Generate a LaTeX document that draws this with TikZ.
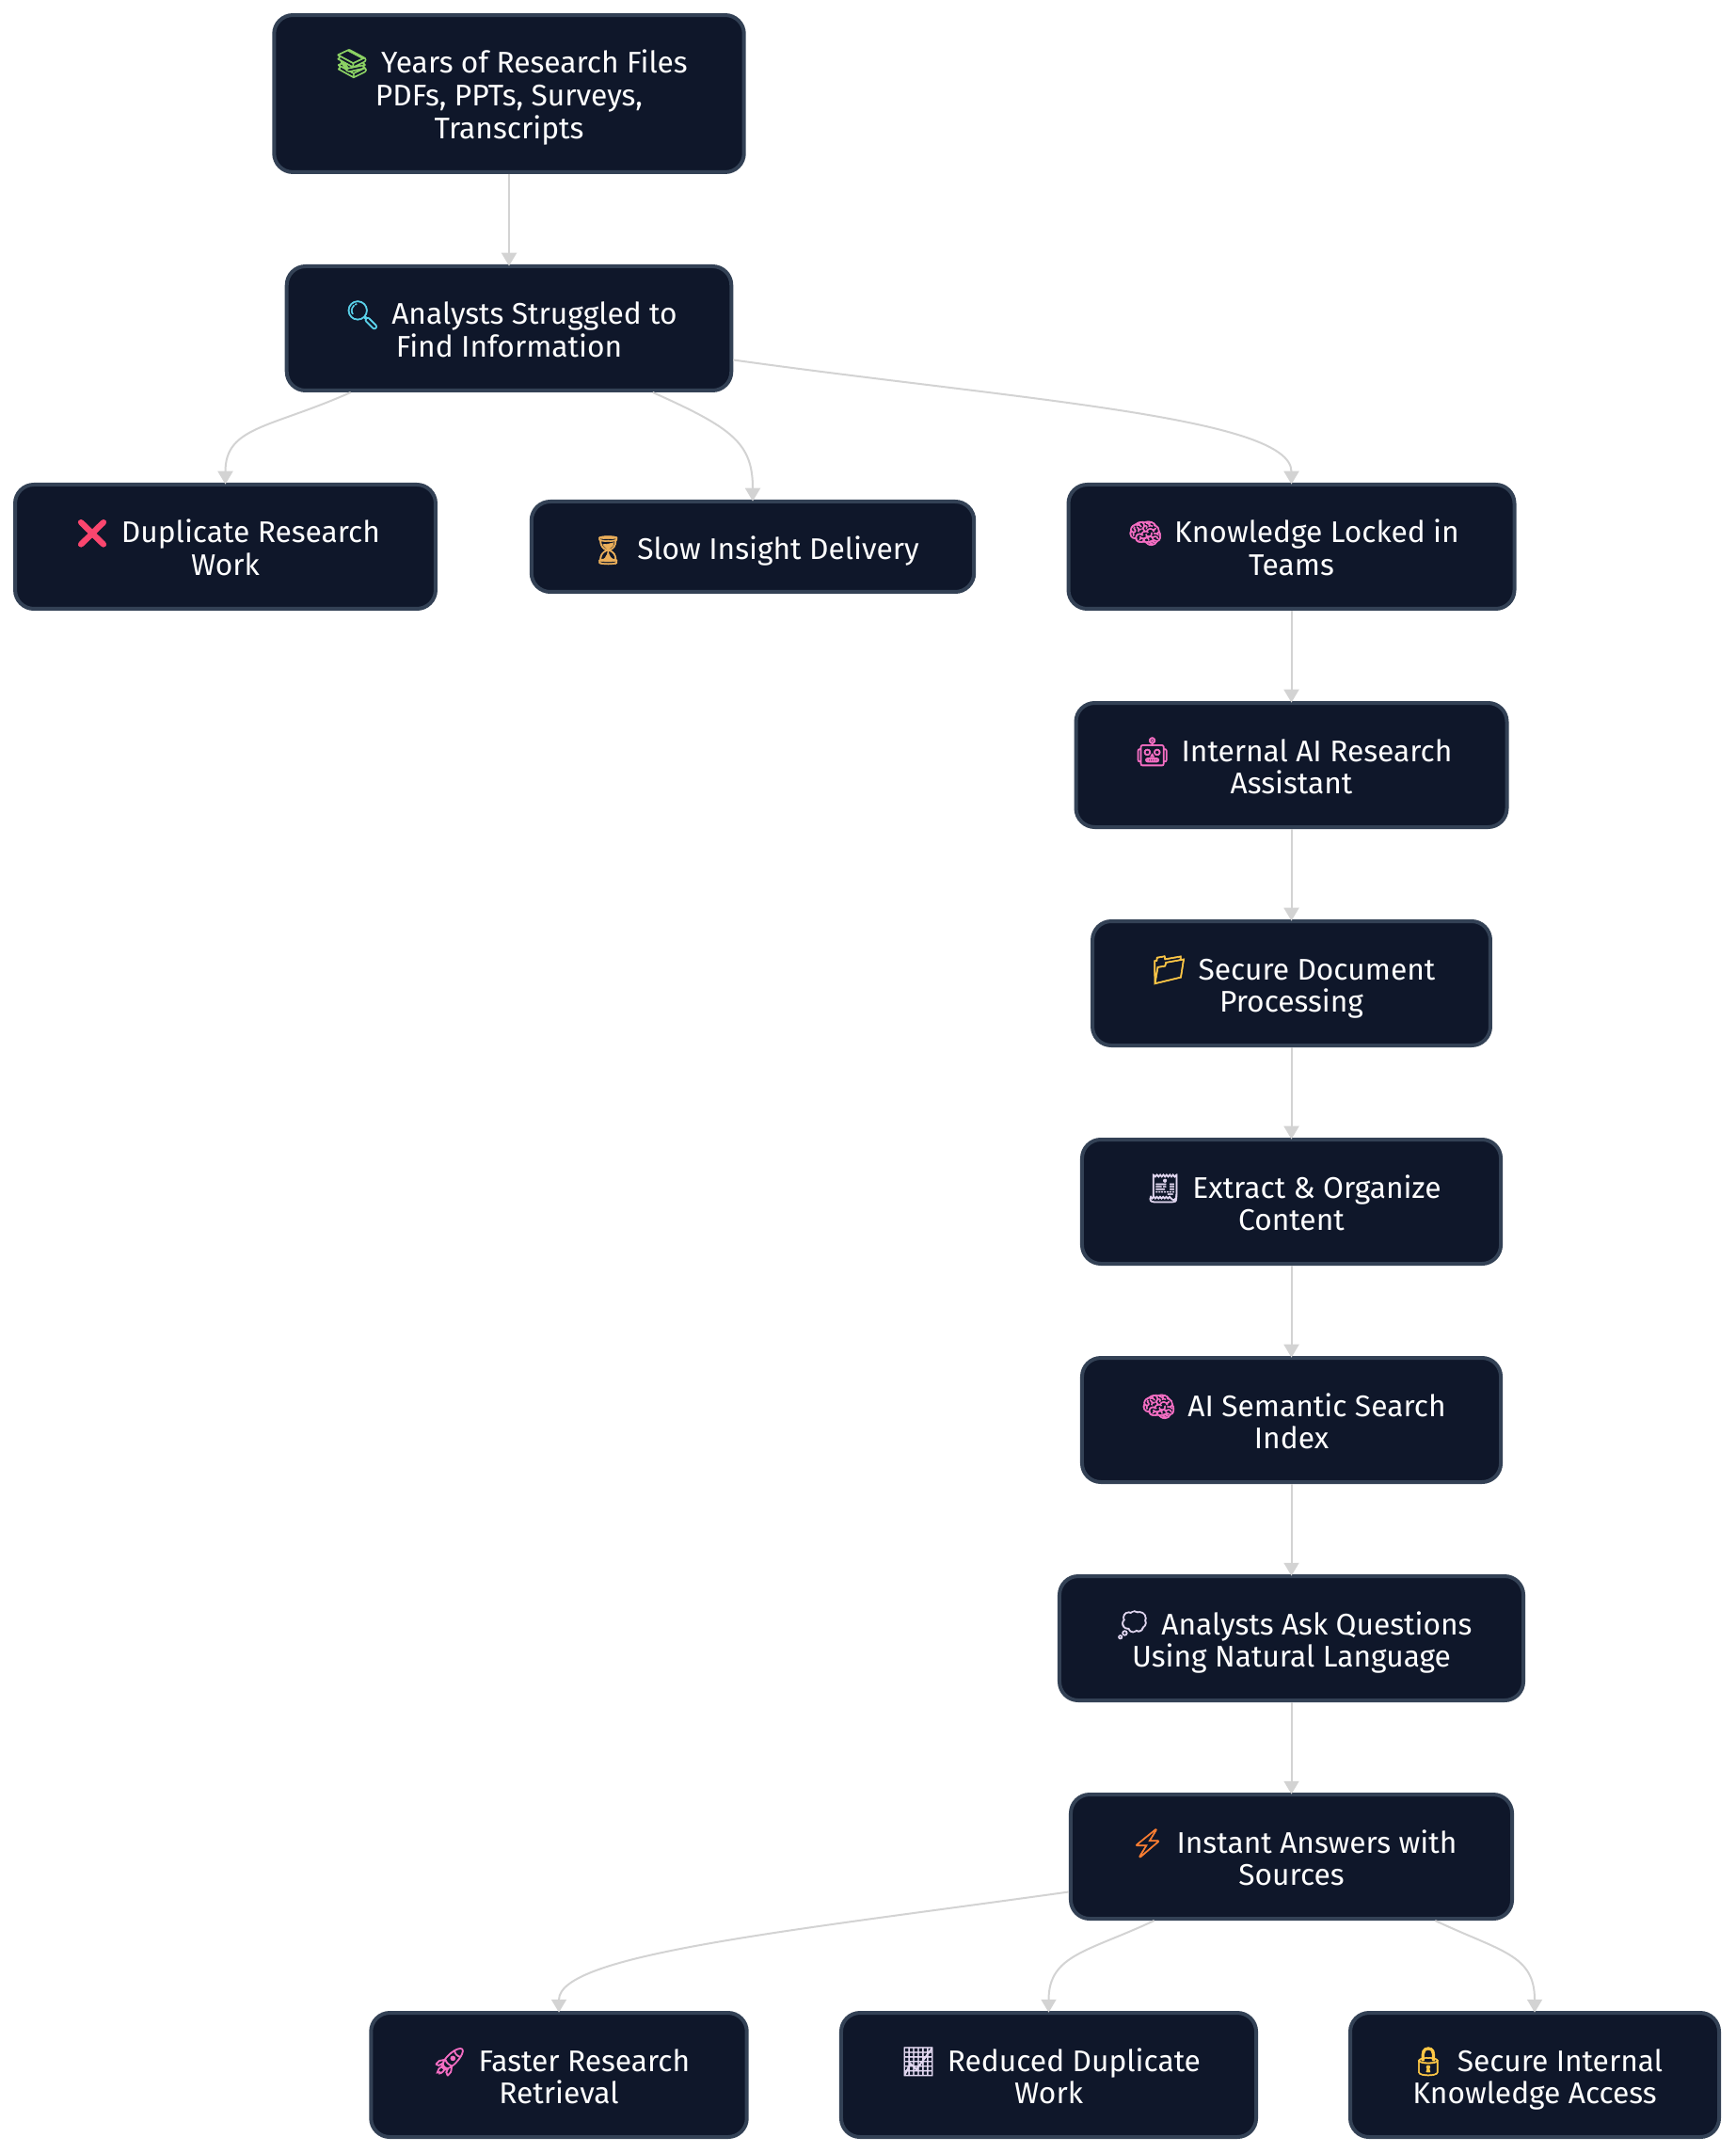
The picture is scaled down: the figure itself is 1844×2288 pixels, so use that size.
\documentclass[tikz,border=0pt]{standalone}
\usepackage{fontspec}
\setmainfont{Fira Sans}
\newfontfamily\emojifont[FakeBold=2]{Noto Emoji}
\definecolor{BoxFill}{RGB}{15, 23, 42}
\definecolor{BoxLine}{RGB}{51, 65, 85}
\definecolor{EdgeGray}{RGB}{211, 211, 211}
\definecolor{IconGreen}{RGB}{140, 210, 100}
\definecolor{IconCyan}{RGB}{90, 210, 235}
\definecolor{IconRed}{RGB}{250, 70, 110}
\definecolor{IconSand}{RGB}{235, 175, 90}
\definecolor{IconPink}{RGB}{245, 110, 195}
\definecolor{IconYellow}{RGB}{255, 200, 70}
\definecolor{IconLilac}{RGB}{225, 215, 240}
\definecolor{IconOrange}{RGB}{250, 125, 50}
\usetikzlibrary{arrows.meta}
\newcommand{\icon}[2]{\hspace*{1.5pt}\textcolor{#1}{{\fontsize{11.2}{13.1}\emojifont #2}}\hspace{4.5pt}}
\tikzset{
  box/.style={draw=BoxLine, fill=BoxFill, line width=1.5pt, rounded corners=7.5pt,
    text=white, align=center, inner sep=0pt, minimum height=49.5pt,
    font=\fontsize{11.9}{13.1}\selectfont,
    text height=26.7pt, text depth=3.5pt},
  edge/.style={draw=EdgeGray, line width=0.75pt, shorten >=-0.6pt, -{Triangle[length=5.2pt, width=6pt]}}
}
\begin{document}
\begin{tikzpicture}[x=0.375pt, y=-0.375pt]
  \useasboundingbox (0,0) rectangle (1844,2288);

  % Problem side
  \node[box, minimum width=187.3pt, minimum height=62.6pt, text height=39.7pt] (files) at (541,99.5) {\icon{IconGreen}{📚}Years of Research Files\\PDFs, PPTs, Surveys,\\Transcripts};
  \node[box, minimum width=177.2pt] (struggle) at (541,349) {\icon{IconCyan}{🔍}Analysts Struggled to\\Find Information};
  \node[box, minimum width=167.6pt] (duplicate) at (239.5,581) {\icon{IconRed}{❌}Duplicate Research\\Work};
  \node[box, minimum width=176.4pt, minimum height=36pt, text height=14pt] (slow) at (800,581) {\icon{IconSand}{⏳}Slow Insight Delivery};
  \node[box, minimum width=177.75pt] (locked) at (1372.5,581) {\icon{IconPink}{🧠}Knowledge Locked in\\Teams};

  % Assistant pipeline
  \node[box, minimum width=171.75pt] (assistant) at (1372.5,813) {\icon{IconPink}{🤖}Internal AI Research\\Assistant};
  \node[box, minimum width=158.6pt] (secure) at (1372.5,1045) {\icon{IconYellow}{📁}Secure Document\\Processing};
  \node[box, minimum width=166.9pt] (extract) at (1372.5,1277) {\icon{IconLilac}{🧾}Extract \& Organize\\Content};
  \node[box, minimum width=166.9pt] (index) at (1372.5,1509) {\icon{IconPink}{🧠}AI Semantic Search\\Index};
  \node[box, minimum width=184.9pt] (ask) at (1372.5,1741) {\icon{IconLilac}{💭}Analysts Ask Questions\\Using Natural Language};
  \node[box, minimum width=175.9pt] (answers) at (1372.5,1973) {\icon{IconOrange}{⚡}Instant Answers with\\Sources};

  % Outcomes
  \node[box, minimum width=149.8pt] (faster) at (594,2205) {\icon{IconPink}{🚀}Faster Research\\Retrieval};
  \node[box, minimum width=165.4pt] (reduced) at (1114.5,2205) {\icon{IconLilac}{📈}Reduced Duplicate\\Work};
  \node[box, minimum width=147pt] (access) at (1631,2205) {\icon{IconYellow}{🔒}Secure Internal\\Knowledge Access};

  % Straight edges
  \draw[edge] (files) -- (struggle);
  \draw[edge] (locked) -- (assistant);
  \draw[edge] (assistant) -- (secure);
  \draw[edge] (secure) -- (extract);
  \draw[edge] (extract) -- (index);
  \draw[edge] (index) -- (ask);
  \draw[edge] (ask) -- (answers);

  % Curved edges
  \draw[edge] (struggle.-158.8) .. controls +(-85,38) and +(0,-60) .. (duplicate.north);
  \draw[edge] (struggle.-24.4) .. controls +(85,38) and +(0,-60) .. (slow.north);
  \draw[edge] (struggle.-8.5) .. controls +(300,42) and +(0,-70) .. (locked.north);
  \draw[edge] (answers.-171.8) .. controls +(-300,42) and +(0,-60) .. (faster.north);
  \draw[edge] (answers.-155.6) .. controls +(-70,33) and +(0,-60) .. (reduced.north);
  \draw[edge] (answers.-24.4) .. controls +(70,33) and +(0,-60) .. (access.north);
\end{tikzpicture}
\end{document}
